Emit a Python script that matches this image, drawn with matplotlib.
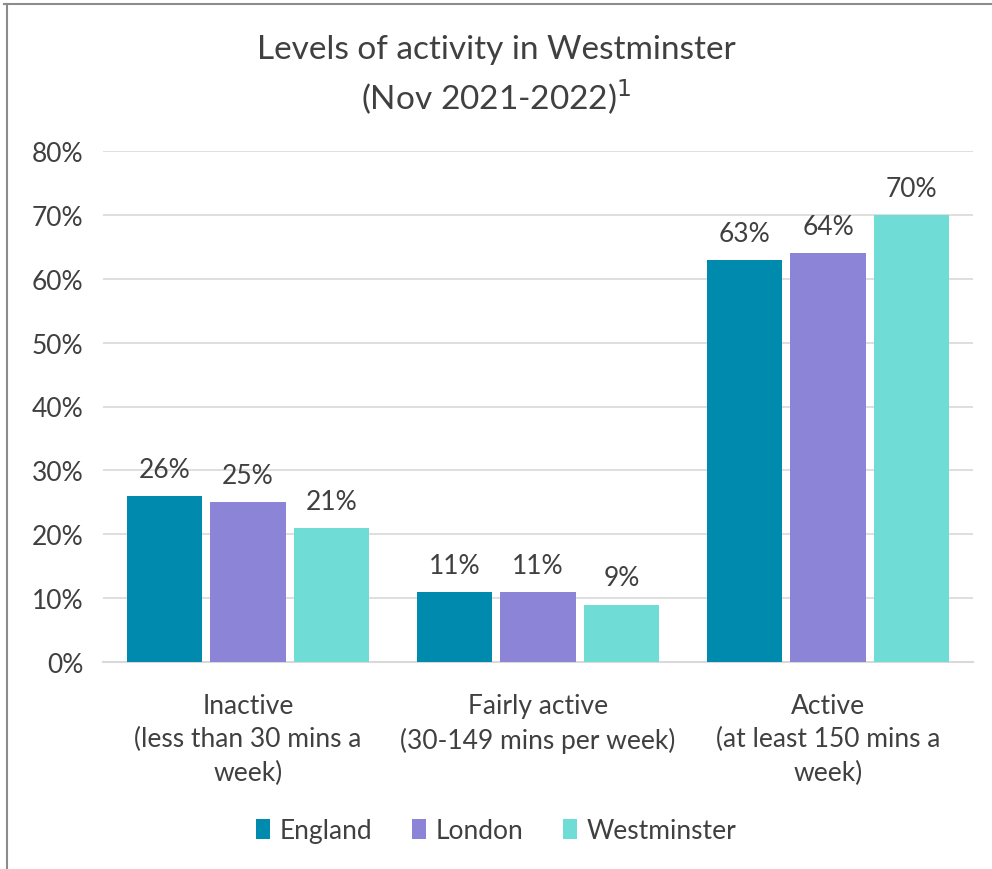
import matplotlib.pyplot as plt
from matplotlib.lines import Line2D
import numpy as np

plt.rcParams['font.family'] = ['Lato', 'DejaVu Sans']

categories = ["Inactive\n(less than 30 mins a\nweek)",
              "Fairly active\n(30-149 mins per week)",
              "Active\n(at least 150 mins a\nweek)"]
series = ["England", "London", "Westminster"]
england = [26, 11, 63]
london = [25, 11, 64]
westminster = [21, 9, 70]
colors = ["#008AAD", "#8B84D7", "#6FDCD6"]
yticks = [0, 10, 20, 30, 40, 50, 60, 70, 80]

text_color = "#404040"

fig = plt.figure(figsize=(9.92, 8.7), dpi=100)
ax = fig.add_axes([103 / 992, 207 / 870, 870 / 992, 511 / 870])

x = np.arange(len(categories))
width = 0.26
step = 0.288
for i, (name, vals) in enumerate(zip(series, [england, london, westminster])):
    pos = x + (i - 1) * step
    bars = ax.bar(pos, vals, width, color=colors[i], label=name, zorder=3)
    for b, v in zip(bars, vals):
        ax.text(b.get_x() + b.get_width() / 2, v + 2.2, f"{v}%",
                ha="center", va="bottom", fontsize=19, color=text_color)

ax.set_xlim(-0.5, 2.5)
ax.set_ylim(0, 80)
ax.set_yticks(yticks)
ax.set_yticklabels([f"{t}%" for t in yticks])
ax.set_xticks(x)
ax.set_xticklabels(categories, linespacing=1.42)
ax.tick_params(axis="both", length=0, labelsize=19, colors=text_color)
ax.tick_params(axis="y", pad=14)
ax.tick_params(axis="x", pad=22)
ax.grid(axis="y", color="#D9D9D9", linewidth=1.2, zorder=0)
for s in ["top", "right", "left"]:
    ax.spines[s].set_visible(False)
ax.spines["bottom"].set_color("#D9D9D9")
ax.spines["bottom"].set_linewidth(1.5)

fig.text(0.5, 1 - 50 / 870, "Levels of activity in Westminster", ha="center",
         va="center", fontsize=24, color=text_color)
fig.text(0.5, 1 - 97 / 870, "(Nov 2021-2022)$^{1}$", ha="center",
         va="center", fontsize=24, color=text_color)

ax.legend(loc="center", bbox_to_anchor=(0.5, (870 - 832) / 870),
          bbox_transform=fig.transFigure, ncol=3, frameon=False,
          fontsize=19, handlelength=0.55, handleheight=0.8, handletextpad=0.35,
          columnspacing=1.5, labelcolor=text_color)

fig.add_artist(Line2D([4 / 992, 1], [1 - 5 / 870, 1 - 5 / 870],
                      transform=fig.transFigure, color="#8C8C8C", linewidth=1.5))
fig.add_artist(Line2D([7 / 992, 7 / 992], [0, 1 - 5 / 870],
                      transform=fig.transFigure, color="#8C8C8C", linewidth=1.5))

fig.savefig("out.png", dpi=100)
